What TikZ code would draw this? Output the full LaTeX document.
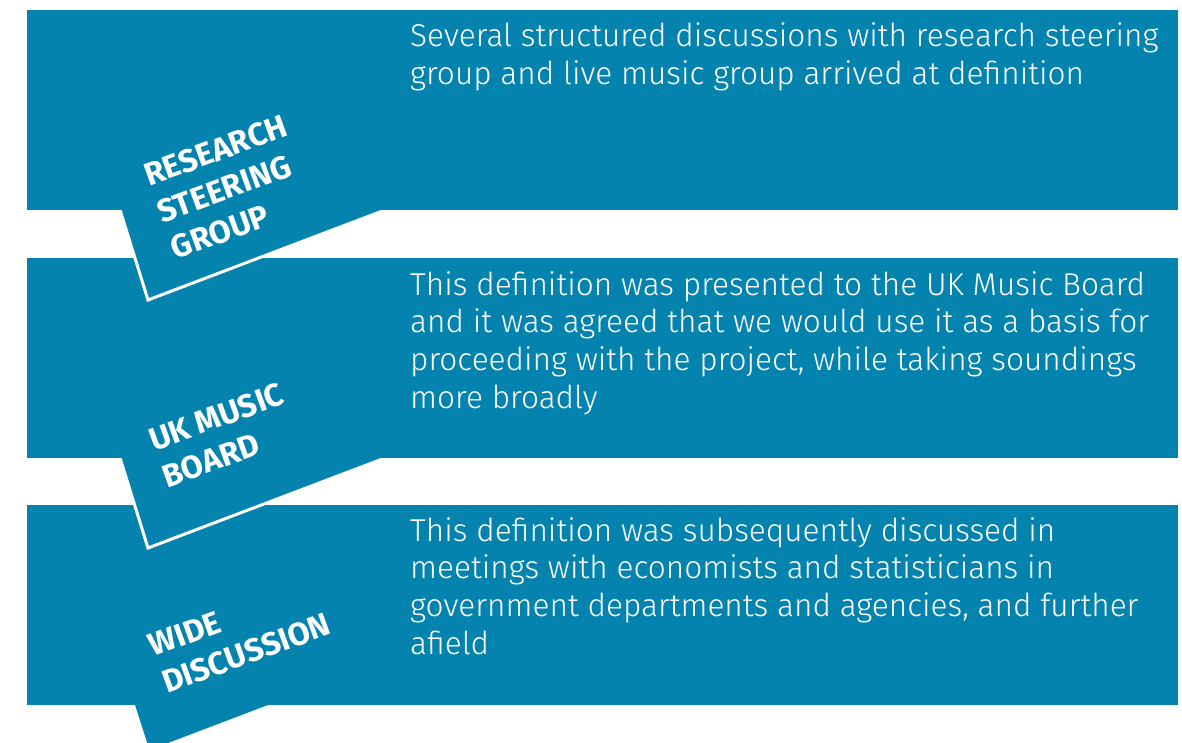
\documentclass[tikz,border=0pt]{standalone}
\usepackage{fontspec}
\setmainfont{Fira Sans}
\newfontfamily\bodyfont{Fira Sans Light}
\newfontfamily\tabfont{Fira Sans Bold}
\definecolor{bandblue}{RGB}{3,131,174}
\begin{document}
\begin{tikzpicture}[x=1pt,y=-1pt,
  band/.style={fill=bandblue,draw=none,rectangle,inner sep=0pt,outer sep=0pt,
    minimum width=1151pt,minimum height=200pt},
  tabedge/.style={draw=white,line width=3pt,line join=miter},
  bodytext/.style={text=white,align=left,inner sep=0pt,anchor=north west,
    font=\bodyfont\fontsize{31.6}{37.9}\selectfont},
  tabtext/.style={text=white,align=left,inner sep=0pt,anchor=north west,rotate=20,
    font=\tabfont\fontsize{32}{39}\selectfont}]
\useasboundingbox (0,0) rectangle (1182,742);

% third band and its tab
\node[band] (b3) at (602.5,605) {};
\fill[bandblue] (127,680) -- (149.5,750) -- (300,692.8) -- (300,680) -- cycle;

% second tab, lying over the third band
\fill[bandblue] (110.7,428) -- (148,548) -- (400,452.3) -- (400,428) -- cycle;
\draw[tabedge] (110.7,428) -- (148,548) -- (400,452.3);

% second band
\node[band] (b2) at (602.5,357.5) {};

% first tab, lying over the second band
\fill[bandblue] (110.7,180) -- (148,300) -- (400,204.3) -- (400,180) -- cycle;
\draw[tabedge] (110.7,180) -- (148,300) -- (400,204.3);

% first band
\node[band] (b1) at (602.5,110) {};

% tab labels
\node[tabtext] (t1) at (141,165) {RESEARCH\\STEERING\\GROUP};
\node[tabtext] (t2) at (146,430) {UK MUSIC\\BOARD};
\node[tabtext] (t3) at (146,636) {WIDE\\DISCUSSION};

% descriptions
\node[bodytext] (d1) at (410,23) {Several structured discussions with research steering\\group and live music group arrived at definition};
\node[bodytext] (d2) at (410,271) {This definition was presented to the UK Music Board\\and it was agreed that we would use it as a basis for\\proceeding with the project, while taking soundings\\more broadly};
\node[bodytext] (d3) at (410,517) {This definition was subsequently discussed in\\meetings with economists and statisticians in\\government departments and agencies, and further\\afield};
\end{tikzpicture}
\end{document}
